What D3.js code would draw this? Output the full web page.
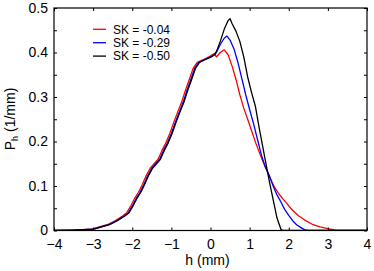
<!DOCTYPE html>
<html><head><meta charset="utf-8">
<script src="https://cdn.jsdelivr.net/npm/d3@7"></script>
<style>body{margin:0;background:#fff;}svg{display:block;font-family:"Liberation Sans",Arial,sans-serif;}</style>
</head><body><svg id="c" width="374" height="271"></svg>
<script>
const xTicks = [-4,-3,-2,-1,0,1,2,3,4];
const yTicks = [0,0.1,0.2,0.3,0.4,0.5];
const yMinor = [0,0.05,0.1,0.15,0.2,0.25,0.3,0.35,0.4,0.45,0.5];
const seriesLabels = ["SK = -0.04","SK = -0.29","SK = -0.50"];
const seriesColors = ["#ff0000","#0000ff","#000000"];

const hRed = [-4,-3.54,-3.04,-2.84,-2.64,-2.44,-2.24,-2.14,-2.04,-1.94,-1.84,-1.74,-1.64,-1.54,-1.44,-1.34,-1.24,-1.14,-1.04,-0.94,-0.84,-0.74,-0.64,-0.54,-0.44,-0.34,-0.24,-0.14,-0.04,0.06,0.1,0.15,0.25,0.35,0.45,0.55,0.65,0.75,0.85,0.95,1.05,1.15,1.25,1.35,1.45,1.55,1.65,1.75,1.85,1.95,2.05,2.15,2.25,2.4,2.6,2.8,3.0,3.2,3.5,4];
const pRed = [0,0.001,0.003,0.008,0.013,0.022,0.033,0.040,0.055,0.072,0.086,0.104,0.124,0.140,0.150,0.160,0.180,0.197,0.218,0.243,0.266,0.288,0.315,0.340,0.365,0.378,0.382,0.386,0.390,0.396,0.397,0.390,0.400,0.406,0.395,0.370,0.340,0.305,0.275,0.250,0.224,0.198,0.175,0.153,0.133,0.113,0.095,0.082,0.071,0.061,0.050,0.041,0.033,0.024,0.014,0.008,0.004,0.001,0,0];

const hBlue = [-4,-3.5,-3.0,-2.8,-2.6,-2.4,-2.2,-2.1,-2.0,-1.9,-1.8,-1.7,-1.6,-1.5,-1.4,-1.3,-1.2,-1.1,-1.0,-0.9,-0.8,-0.7,-0.6,-0.5,-0.4,-0.3,-0.2,-0.1,0.0,0.1,0.15,0.25,0.35,0.42,0.5,0.6,0.7,0.8,0.9,1.0,1.1,1.2,1.3,1.4,1.5,1.6,1.7,1.8,1.9,2.0,2.1,2.2,2.3,2.4,2.5,2.7,4];
const pBlue = [0,0.001,0.003,0.008,0.013,0.022,0.033,0.040,0.055,0.072,0.086,0.104,0.124,0.140,0.150,0.160,0.180,0.197,0.218,0.243,0.266,0.288,0.315,0.340,0.365,0.378,0.382,0.386,0.390,0.394,0.400,0.418,0.432,0.437,0.428,0.408,0.378,0.342,0.305,0.272,0.240,0.205,0.170,0.143,0.124,0.100,0.080,0.064,0.047,0.034,0.022,0.013,0.007,0.002,0.0005,0,0];

const hBlack = [-4,-3.5,-2.98,-2.78,-2.58,-2.38,-2.18,-2.08,-1.98,-1.88,-1.78,-1.68,-1.58,-1.48,-1.38,-1.28,-1.18,-1.08,-0.98,-0.88,-0.78,-0.68,-0.58,-0.48,-0.38,-0.28,-0.18,-0.08,0.02,0.1,0.15,0.25,0.35,0.45,0.5,0.55,0.65,0.75,0.85,0.95,1.05,1.15,1.25,1.3,1.4,1.5,1.6,1.7,1.8,1.85,4];
const pBlack = [0,0.001,0.003,0.008,0.013,0.022,0.033,0.040,0.055,0.072,0.086,0.104,0.124,0.140,0.150,0.160,0.180,0.197,0.218,0.243,0.266,0.288,0.315,0.340,0.365,0.378,0.382,0.386,0.390,0.396,0.402,0.425,0.452,0.472,0.476,0.465,0.448,0.425,0.390,0.345,0.310,0.278,0.228,0.205,0.158,0.112,0.070,0.028,0.003,0,0];

const svg = d3.select("#c");
const L=54, R=367, T=8, B=230.5;
const x = d3.scaleLinear().domain([-4,4]).range([L,R]);
const y = d3.scaleLinear().domain([0,0.5]).range([B,T]);

svg.append("clipPath").attr("id","cp").append("rect").attr("x",L).attr("y",T).attr("width",R-L).attr("height",B-T);

const series = [[hRed,pRed],[hBlue,pBlue],[hBlack,pBlack]];
const line = d3.line().x(d=>x(d[0])).y(d=>y(d[1]));
series.forEach((s,i)=>{
  const pts = s[0].map((h,j)=>[h,s[1][j]]);
  svg.append("path").attr("d",line(pts)).attr("fill","none").attr("stroke",seriesColors[i]).attr("stroke-width",1.3).attr("stroke-linejoin","round").attr("clip-path","url(#cp)");
});

// axes
const fs = 14;
const ax = svg.append("g").attr("transform",`translate(0,${B})`).call(d3.axisBottom(x).tickValues(xTicks).tickSize(-3).tickPadding(6).tickFormat(d3.format("d")));
const axT = svg.append("g").attr("transform",`translate(0,${T})`).call(d3.axisTop(x).tickValues(xTicks).tickSize(-3).tickFormat(""));
const ay = svg.append("g").attr("transform",`translate(${L},0)`).call(d3.axisLeft(y).tickValues(yMinor).tickSize(-3).tickPadding(6).tickFormat(d=> yTicks.some(t=>Math.abs(t-d)<1e-9) ? (d===0?"0":d3.format(".1f")(d)) : ""));
const ayR = svg.append("g").attr("transform",`translate(${R},0)`).call(d3.axisRight(y).tickValues(yMinor).tickSize(-3).tickFormat(""));
[ax,axT,ay,ayR].forEach(g=>{
  g.select(".domain").remove();
  g.selectAll("line").attr("stroke","#000");
  g.selectAll("text").attr("font-size",fs).attr("font-family","Liberation Sans, Arial, sans-serif").attr("fill","#000");
});
ax.selectAll("text").attr("dy","0.9em");
svg.append("rect").attr("x",L).attr("y",T).attr("width",R-L).attr("height",B-T).attr("fill","none").attr("stroke","#000").attr("stroke-width",1.2);

// labels
svg.append("text").attr("x",x(0)-3).attr("y",265).attr("text-anchor","middle").attr("font-size",fs).text("h (mm)");
const yl = svg.append("text").attr("transform","translate(15,119) rotate(-90)").attr("text-anchor","middle").attr("font-size",fs);
yl.append("tspan").text("P");
yl.append("tspan").attr("font-size",9).attr("dy",3).text("h");
yl.append("tspan").attr("dy",-3).text(" (1/mm)");

// legend
seriesLabels.forEach((lab,i)=>{
  const yy = 29.3 + i*13.4;
  svg.append("line").attr("x1",93).attr("x2",106).attr("y1",yy).attr("y2",yy).attr("stroke",seriesColors[i]).attr("stroke-width",1.3);
  svg.append("text").attr("x",113).attr("y",yy).attr("dy","0.35em").attr("font-size",12).text(lab);
});
</script></body></html>
